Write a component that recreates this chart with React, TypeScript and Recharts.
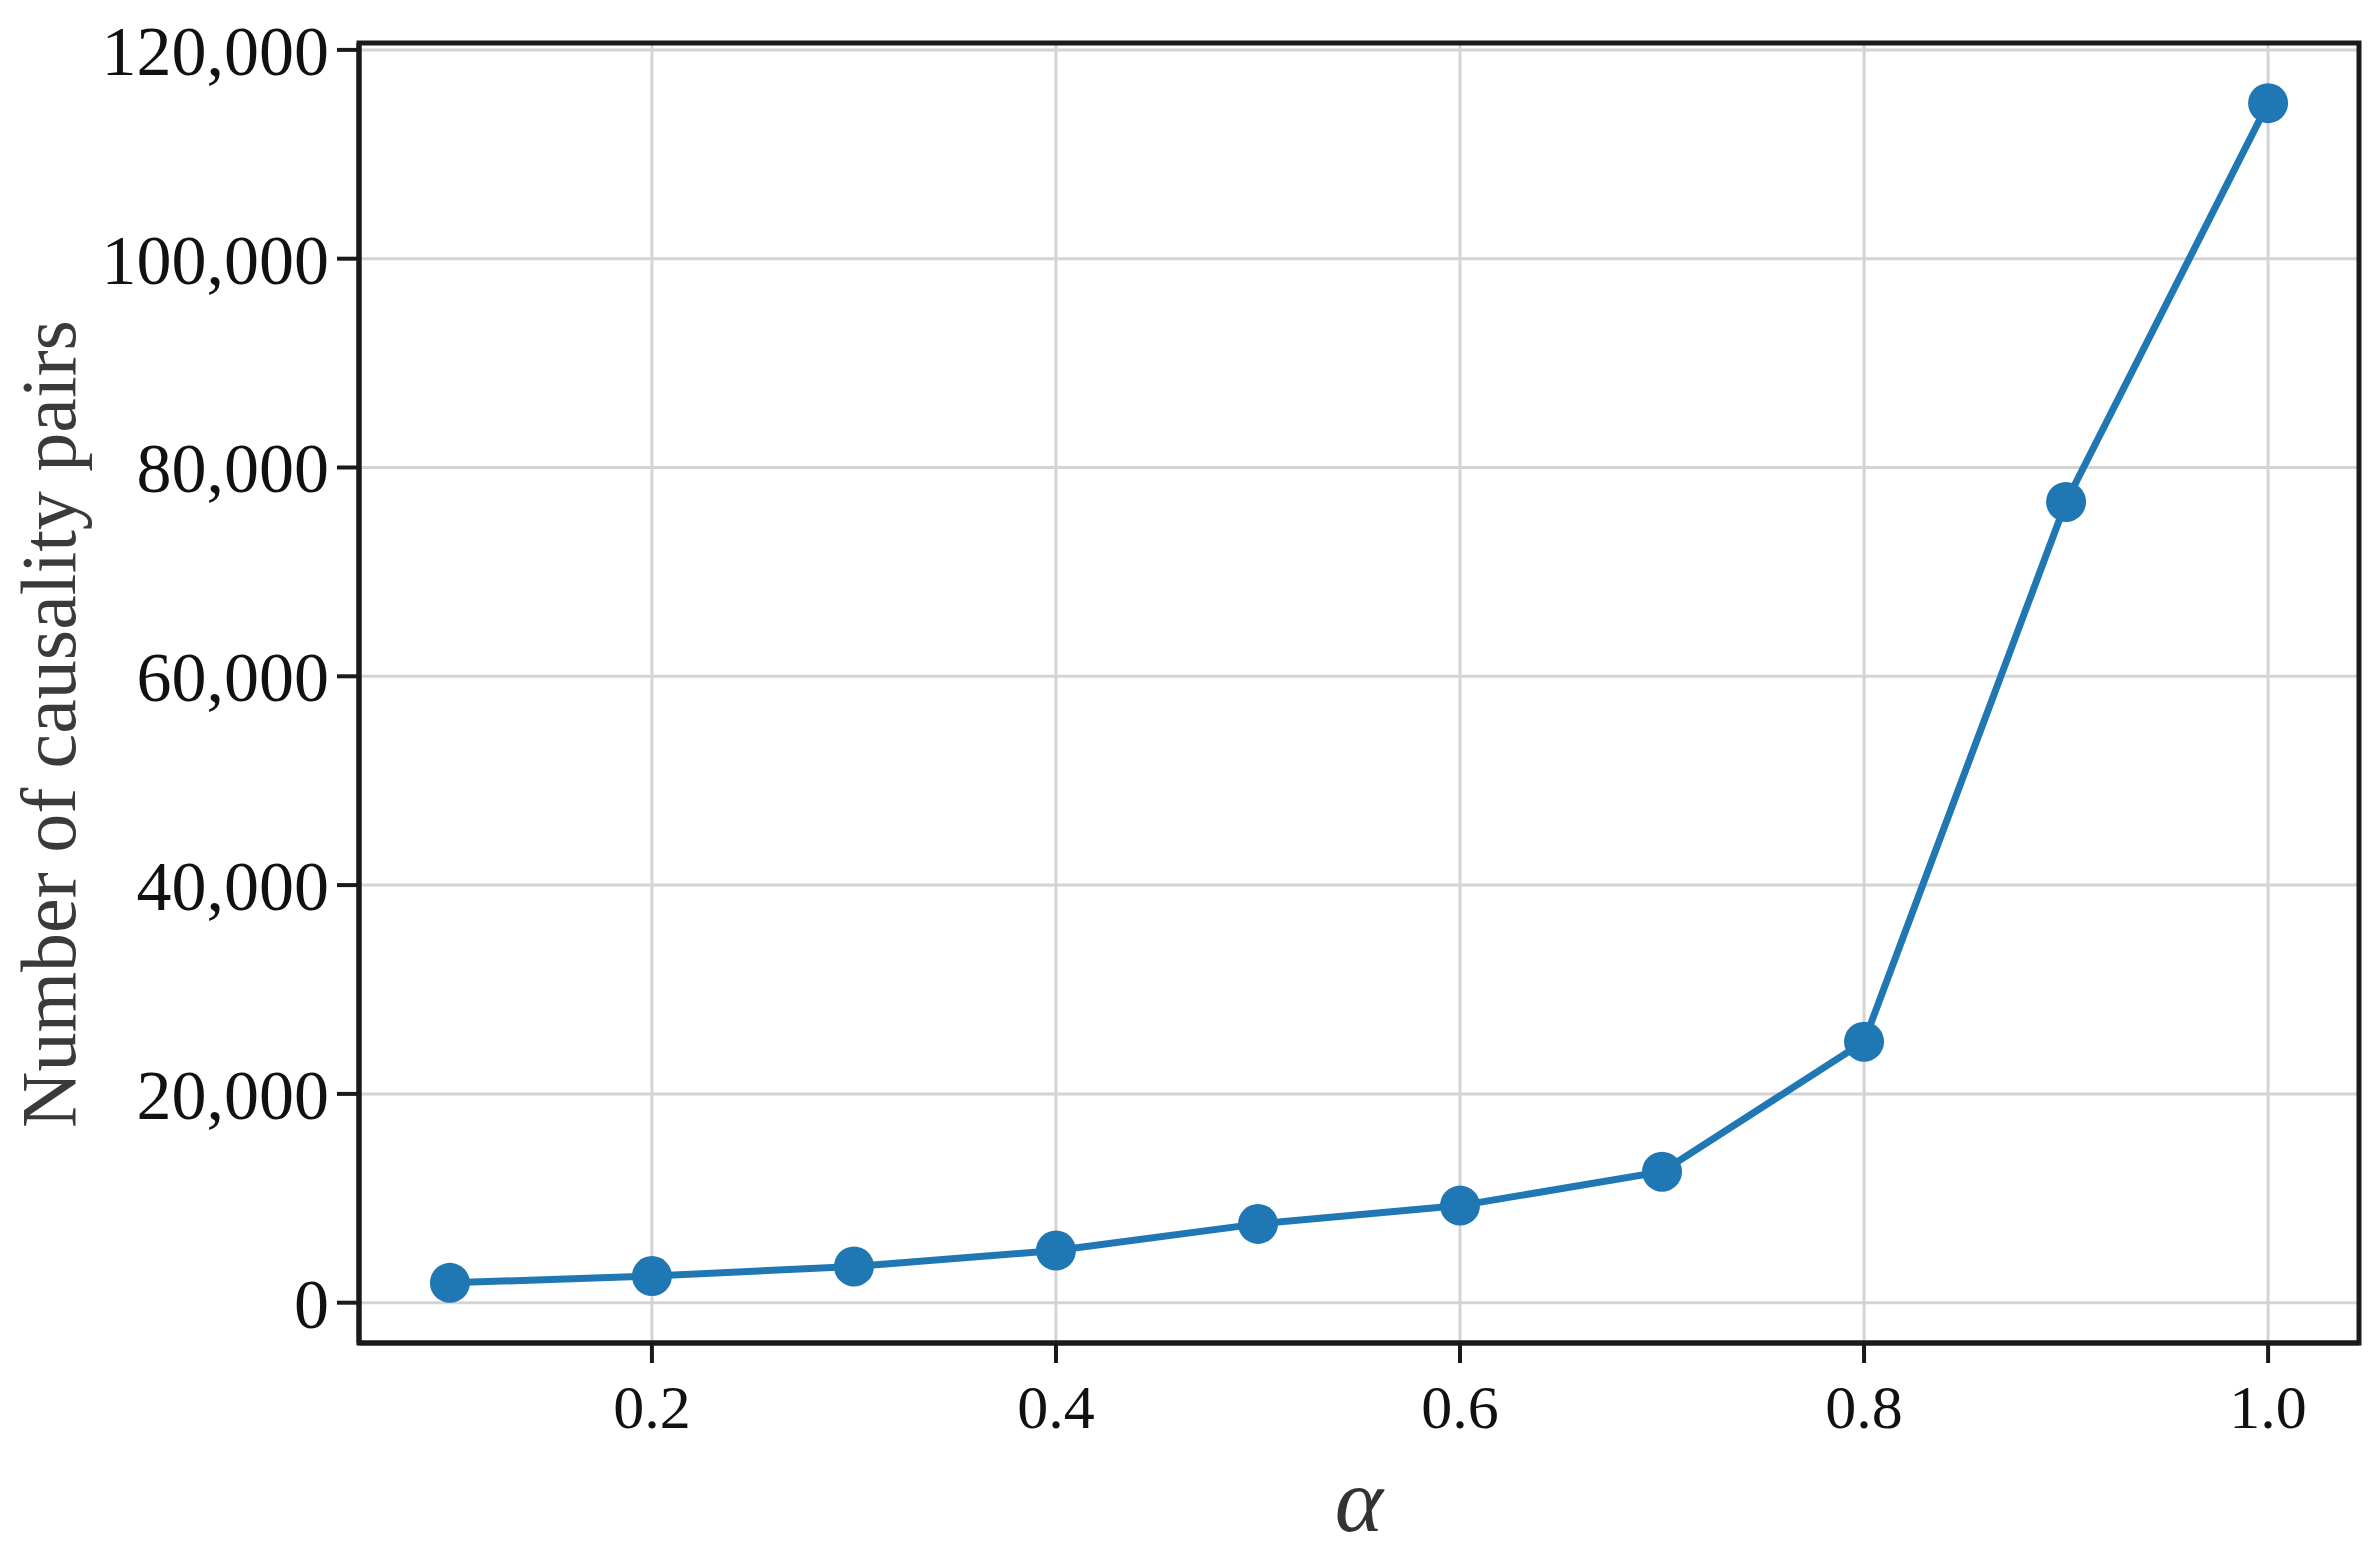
import { LineChart, Line, XAxis, YAxis, CartesianGrid, ReferenceArea } from 'recharts';

// alpha threshold vs. number of causality pairs
const alphaValues = [0.1, 0.2, 0.3, 0.4, 0.5, 0.6, 0.7, 0.8, 0.9, 1.0];
const pairCounts = [1900, 2550, 3470, 5000, 7550, 9300, 12550, 25000, 76700, 114900];

const xTicks = [0.2, 0.4, 0.6, 0.8, 1.0];
const yTicks = [0, 20000, 40000, 60000, 80000, 100000, 120000];

const X_DOMAIN: [number, number] = [0.055, 1.045];
const Y_DOMAIN: [number, number] = [-3860, 120660];

const data = alphaValues.map((a, i) => ({ alpha: a, pairs: pairCounts[i] }));

const FONT = "'Liberation Serif', 'Times New Roman', serif";
const BLUE = '#1f77b4';
const AXIS = '#1a1a1a';

export default function App() {
  return (
    <div style={{ position: 'absolute', left: 0, top: 0, width: 2378, height: 1553, background: '#fff' }}>
      <LineChart
        width={2378}
        height={1553}
        data={data}
        margin={{ top: 43, right: 19, bottom: 0, left: 0 }}
        style={{ fontFamily: FONT }}
      >
        <CartesianGrid stroke="#d4d4d4" strokeWidth={3} />
        <XAxis
          dataKey="alpha"
          type="number"
          domain={X_DOMAIN}
          ticks={xTicks}
          allowDataOverflow
          height={210}
          tickFormatter={(v: number) => v.toFixed(1)}
          axisLine={{ stroke: AXIS, strokeWidth: 5 }}
          tickLine={{ stroke: AXIS, strokeWidth: 4 }}
          tickSize={20}
          tickMargin={21}
          tick={{ fill: '#111', fontSize: 62, fontFamily: FONT }}
          label={{
            value: 'α',
            position: 'insideBottom',
            offset: 22,
            fill: '#333',
            fontSize: 92,
            fontStyle: 'italic',
            fontFamily: FONT,
          }}
        />
        <YAxis
          type="number"
          domain={Y_DOMAIN}
          ticks={yTicks}
          allowDataOverflow
          width={359}
          tickFormatter={(v: number) => v.toLocaleString('en-US')}
          axisLine={{ stroke: AXIS, strokeWidth: 5 }}
          tickLine={{ stroke: AXIS, strokeWidth: 4 }}
          tickSize={22}
          tickMargin={8}
          tick={{ fill: '#111', fontSize: 70, fontFamily: FONT }}
          label={{
            content: () => (
              <text
                x={48}
                y={724}
                transform="rotate(-90 48 724)"
                textAnchor="middle"
                dominantBaseline="central"
                fill="#3a3a3a"
                fontSize={78}
                fontFamily={FONT}
              >
                Number of causality pairs
              </text>
            ),
          }}
        />
        {/* frame around plot area */}
        <ReferenceArea
          x1={X_DOMAIN[0]}
          x2={X_DOMAIN[1]}
          y1={Y_DOMAIN[0]}
          y2={Y_DOMAIN[1]}
          fill="none"
          stroke={AXIS}
          strokeWidth={5}
          fillOpacity={0}
        />
        <Line
          type="linear"
          dataKey="pairs"
          stroke={BLUE}
          strokeWidth={7}
          dot={{ r: 20, fill: BLUE, stroke: 'none' }}
          isAnimationActive={false}
        />
      </LineChart>
    </div>
  );
}
